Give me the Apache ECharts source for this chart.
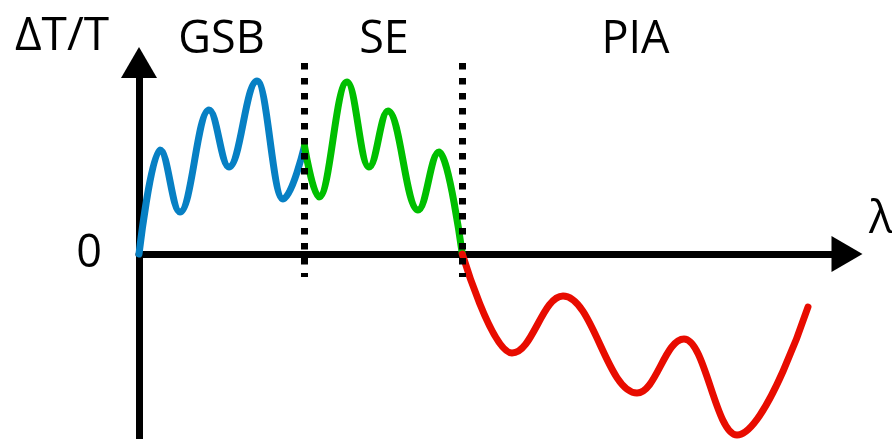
<!DOCTYPE html>
<html>
<head>
<meta charset="utf-8">
<script src="https://cdn.jsdelivr.net/npm/echarts@6/dist/echarts.min.js"></script>
<style>
html,body{margin:0;padding:0;background:#fff;}
#chart{width:892px;height:439px;}
</style>
</head>
<body>
<div id="chart"></div>
<script>
// Schematic transient absorption spectrum (arbitrary units)
var gsbPoints = [[0, 0], [2.1, 10.4], [4.1, 4.2], [7.0, 14.4], [9.0, 8.7], [11.8, 17.3], [14.4, 5.5], [16.55, 10.8]];
var sePoints  = [[16.55, 10.8], [18.0, 5.7], [20.8, 17.2], [23.0, 8.7], [24.9, 14.3], [27.9, 4.4], [30.0, 10.2], [32.33, 0]];
var piaPoints = [[32.33, 0], [37.3, -9.9], [42.4, -4.2], [49.8, -13.9], [54.5, -8.5], [59.8, -18.1], [66.9, -5.3]];
var regionBounds = [16.55, 32.33];
var regionLineRange = [-2.3, 19.1];
var regionNames = ['GSB', 'SE', 'PIA'];
var yTickValues = [0];
var xAxisName = 'λ';
var yAxisName = 'ΔT/T';

var FONT = '"Open Sans", "Noto Sans", sans-serif';
var chart = echarts.init(document.getElementById('chart'), null, {renderer: 'canvas'});

function curve(name, pts, color, extra) {
  var s = {
    name: name,
    type: 'line',
    data: pts,
    showSymbol: false,
    smooth: 0.4,
    smoothMonotone: 'x',
    clip: false,
    lineStyle: {color: color, width: 7, cap: 'round'},
    z: 3
  };
  if (extra) Object.assign(s, extra);
  return s;
}

var option = {
  animation: false,
  backgroundColor: '#ffffff',
  grid: {left: 139, right: 45, top: 62.5, bottom: 0, containLabel: false},
  xAxis: {
    type: 'value', min: 0, max: 70.8,
    splitLine: {show: false}, axisTick: {show: false}, axisLabel: {show: false},
    axisLine: {show: true, onZero: true, symbol: ['none', 'triangle'], symbolSize: [36, 31],
      lineStyle: {color: '#000', width: 7}}
  },
  yAxis: {
    type: 'value', min: -18.5, max: 19.15,
    splitLine: {show: false}, axisTick: {show: false},
    axisLabel: {show: true, customValues: yTickValues, margin: 37, fontSize: 45,
      color: '#000', fontFamily: FONT},
    axisLine: {show: true, onZero: false, symbol: ['none', 'triangle'], symbolSize: [36, 31],
      lineStyle: {color: '#000', width: 7}}
  },
  graphic: [
    {type: 'text', x: 62, y: 37, style: {text: yAxisName, fontSize: 46, fontFamily: FONT, fill: '#000', align: 'center', verticalAlign: 'middle'}},
    {type: 'text', x: 221.5, y: 40, style: {text: regionNames[0], fontSize: 45, fontFamily: FONT, fill: '#000', align: 'center', verticalAlign: 'middle'}},
    {type: 'text', x: 384, y: 40, style: {text: regionNames[1], fontSize: 45, fontFamily: FONT, fill: '#000', align: 'center', verticalAlign: 'middle'}},
    {type: 'text', x: 635.5, y: 40, style: {text: regionNames[2], fontSize: 45, fontFamily: FONT, fill: '#000', align: 'center', verticalAlign: 'middle'}},
    {type: 'text', x: 881, y: 220, style: {text: xAxisName, fontSize: 45, fontFamily: FONT, fill: '#000', align: 'center', verticalAlign: 'middle'}}
  ],
  series: [
    curve('GSB', gsbPoints, '#0780c4', {
      markLine: {
        silent: true, symbol: 'none', animation: false,
        label: {show: false},
        lineStyle: {color: '#000', width: 7, type: [6.5, 8.5], cap: 'butt'},
        data: regionBounds.map(function (b) {
          return [{coord: [b, regionLineRange[1]]}, {coord: [b, regionLineRange[0]]}];
        })
      }
    }),
    curve('SE', sePoints, '#00bf00'),
    curve('PIA', piaPoints, '#e80c00')
  ]
};
chart.setOption(option);
</script>
</body>
</html>
